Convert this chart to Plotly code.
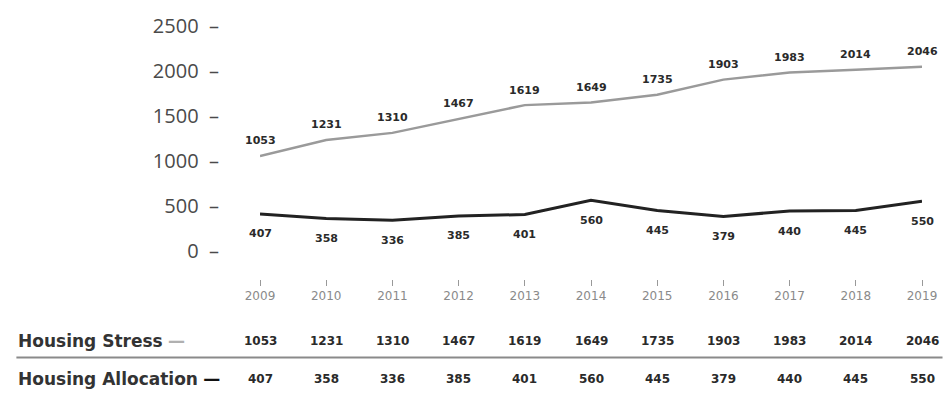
import plotly.graph_objects as go

years = [2009, 2010, 2011, 2012, 2013, 2014, 2015, 2016, 2017, 2018, 2019]
housing_stress = [1053, 1231, 1310, 1467, 1619, 1649, 1735, 1903, 1983, 2014, 2046]
housing_allocation = [407, 358, 336, 385, 401, 560, 445, 379, 440, 445, 550]
y_ticks = [0, 500, 1000, 1500, 2000, 2500]
row_labels = ["Housing Stress", "Housing Allocation"]

STRESS_C = "#9a9a9a"
ALLOC_C = "#222222"
BOLD_FONT = "DejaVu Sans"

fig = go.Figure()
fig.add_trace(go.Scatter(
    x=years, y=housing_stress, mode="lines",
    line=dict(color=STRESS_C, width=2.5),
    showlegend=False, hoverinfo="skip"))
fig.add_trace(go.Scatter(
    x=years, y=housing_allocation, mode="lines",
    line=dict(color=ALLOC_C, width=3),
    showlegend=False, hoverinfo="skip"))

# point labels
for yr, v in zip(years, housing_stress):
    fig.add_annotation(x=yr, y=v, xref="x", yref="y", text=f"<b>{v}</b>",
                       showarrow=False, yshift=15, xanchor="center", yanchor="middle",
                       font=dict(family=BOLD_FONT, size=11, color="#2a2a2a"))
for yr, v in zip(years, housing_allocation):
    fig.add_annotation(x=yr, y=v, xref="x", yref="y", text=f"<b>{v}</b>",
                       showarrow=False, yshift=-20, xanchor="center", yanchor="middle",
                       font=dict(family=BOLD_FONT, size=11, color="#2a2a2a"))

# table rows
row_y = [-0.244, -0.395]
for series, ry in zip([housing_stress, housing_allocation], row_y):
    for yr, v in zip(years, series):
        fig.add_annotation(x=yr, y=ry, xref="x", yref="paper", text=f"<b>{v}</b>",
                           showarrow=False, xanchor="center", yanchor="middle",
                           font=dict(family=BOLD_FONT, size=12, color="#2a2a2a"))

dash_colors = ["#b0b0b0", "#111111"]
for lab, ry, dc in zip(row_labels, row_y, dash_colors):
    fig.add_annotation(x=-0.368, y=ry, xref="paper", yref="paper",
                       text=f"<b>{lab}</b> <span style='color:{dc}'><b>—</b></span>",
                       showarrow=False, xanchor="left", yanchor="middle",
                       font=dict(family=BOLD_FONT, size=17, color="#333333"))

fig.add_shape(type="line", xref="paper", yref="paper", x0=-0.368, x1=1.031,
              y0=-0.31, y1=-0.31, line=dict(color="#8a8a8a", width=2))

fig.update_layout(
    width=949, height=396,
    margin=dict(l=260, r=21, t=21, b=117),
    paper_bgcolor="white", plot_bgcolor="white",
    xaxis=dict(range=[2009, 2019], tickvals=years, ticktext=[str(y) for y in years],
               showgrid=False, zeroline=False, showline=False,
               ticks="outside", ticklen=6, tickcolor="#999999", tickwidth=1,
               tickfont=dict(family="DejaVu Sans", size=12, color="#8a8a8a")),
    yaxis=dict(range=[-317, 2500], tickvals=y_ticks,
               ticktext=[f"{v}  –" for v in y_ticks],
               showgrid=False, zeroline=False, showline=False, ticks="",
               ticklabelstandoff=40,
               tickfont=dict(family="Open Sans", size=20, color="#4a4a4a")),
)

fig.write_html("out.html")
